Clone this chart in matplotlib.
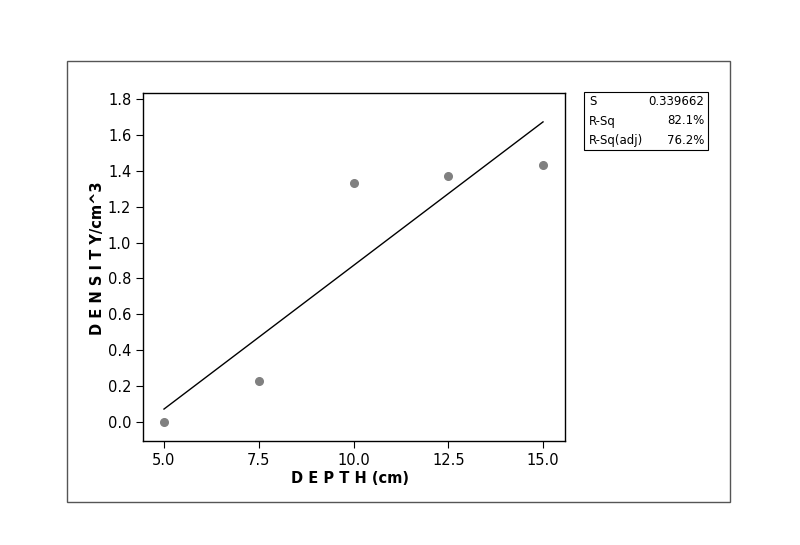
import numpy as np
import matplotlib.pyplot as plt
from matplotlib.patches import Rectangle

# donnees
depth = [5.0, 7.5, 10.0, 12.5, 15.0]
density = [0.0, 0.23, 1.33, 1.37, 1.43]
x_ticks = [5.0, 7.5, 10.0, 12.5, 15.0]
y_ticks = [0.0, 0.2, 0.4, 0.6, 0.8, 1.0, 1.2, 1.4, 1.6, 1.8]
stat_names = ["S", "R-Sq", "R-Sq(adj)"]
stat_values = ["0.339662", "82.1%", "76.2%"]

fig = plt.figure(figsize=(8, 5.45), dpi=100)

# cadre exterieur
fig.patches.append(Rectangle((67/800, 1-502/545), (730-67)/800, (502-61)/545,
                             transform=fig.transFigure, fill=False,
                             edgecolor="#555555", linewidth=1.0))

ax = fig.add_axes([143/800, 1-441/545, (565-143)/800, (441-93)/545])

# droite de regression
coef = np.polyfit(depth, density, 1)
xl = np.array([min(depth), max(depth)])
ax.plot(xl, np.polyval(coef, xl), color="black", linewidth=1.0)
ax.plot(depth, density, "o", color="#808080", markersize=5.5)

ax.set_xlim(4.446, 15.58)
ax.set_ylim(-0.106, 1.833)
ax.set_xticks(x_ticks)
ax.set_xticklabels(["%.1f" % v for v in x_ticks])
ax.set_yticks(y_ticks)
ax.set_yticklabels(["%.1f" % v for v in y_ticks])
ax.tick_params(direction="out", length=5, labelsize=10.5, top=False, right=False)
for s in ax.spines.values():
    s.set_linewidth(1.0)

ax.set_xlabel("D E P T H (cm)", fontweight="bold", fontsize=10.5)
ax.set_ylabel("D E N S I T Y/cm^3", fontweight="bold", fontsize=10.5)
ax.xaxis.set_label_coords(0.49, -0.087)
ax.yaxis.set_label_coords(-0.090, 0.526)

# tableau des statistiques
bx0, by0, bx1, by1 = 584, 92, 708, 150
fig.patches.append(Rectangle((bx0/800, 1-by1/545), (bx1-bx0)/800, (by1-by0)/545,
                             transform=fig.transFigure, fill=False,
                             edgecolor="black", linewidth=0.8))
row_h = (by1 - by0) / 3
for i in range(3):
    yc = by0 + row_h*(i + 0.5)
    fig.text((bx0+5)/800, 1-yc/545, stat_names[i], fontsize=8.5, va="center", ha="left")
    fig.text((bx1-4)/800, 1-yc/545, stat_values[i], fontsize=8.5, va="center", ha="right")

fig.savefig("out.png", dpi=100)
